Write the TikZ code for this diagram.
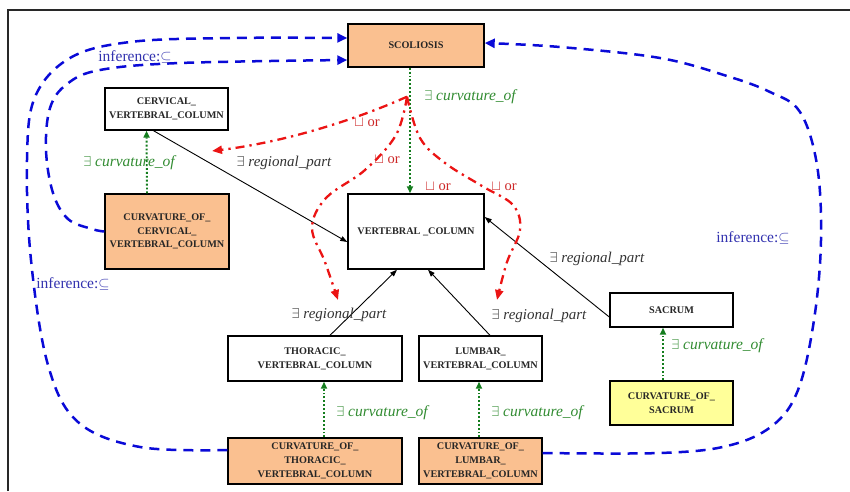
\documentclass[tikz,border=0pt]{standalone}
\usepackage{fontspec}
\setmainfont{Liberation Serif}
\usetikzlibrary{arrows.meta,calc}
\definecolor{orng}{RGB}{250,192,144}
\definecolor{yel}{RGB}{255,255,153}
\definecolor{grn}{RGB}{20,125,30}
\definecolor{grntxt}{RGB}{50,140,50}
\definecolor{blu}{RGB}{10,10,215}
\definecolor{blutxt}{RGB}{50,50,175}
\definecolor{rd}{RGB}{235,20,20}
\definecolor{rdtxt}{RGB}{205,40,40}
\definecolor{frm}{RGB}{40,40,40}
\begin{document}
\begin{tikzpicture}[x=1pt,y=-1pt,
  box/.style={draw=black,line width=1.4pt,inner sep=0pt,align=center,
    font=\fontsize{10.2}{13.8}\selectfont\bfseries,text=black!85},
  obox/.style={box,fill=orng},
  ybox/.style={box,fill=yel},
  wbox/.style={box,fill=white},
  curv/.style={grn,line width=1.9pt,dash pattern=on 1.9pt off 2pt,-{Triangle[length=7pt,width=6pt]}},
  part/.style={black,line width=0.9pt,-{Triangle[length=7pt,width=5pt]}},
  uni/.style={rd,line width=2.3pt,dash pattern=on 9pt off 5pt on 2.3pt off 5pt,-{Triangle[length=10pt,width=8pt]}},
  inf/.style={blu,line width=2.5pt,dash pattern=on 10pt off 7pt,-{Triangle[length=10pt,width=9pt]}},
  clab/.style={text=grntxt,font=\fontsize{15.5}{15.5}\selectfont\itshape,inner sep=1pt},
  plab/.style={text=black!80,font=\fontsize{15}{15}\selectfont\itshape,inner sep=1pt},
  olab/.style={text=rdtxt,font=\fontsize{14.5}{14.5}\selectfont,inner sep=1pt},
  ilab/.style={text=blutxt,font=\fontsize{15.5}{15.5}\selectfont,inner sep=1pt},
]
\useasboundingbox (0,0) rectangle (850,491);
\draw[frm,line width=2pt] (8,491) -- (8,10) -- (850,10);

% nodes
\node[obox,minimum width=136pt,minimum height=43pt] (scol) at (416,45.5) {SCOLIOSIS};
\node[wbox,minimum width=123pt,minimum height=42pt] (cerv) at (166.5,109) {CERVICAL\_\\VERTEBRAL\_COLUMN};
\node[obox,minimum width=124pt,minimum height=75pt] (ccerv) at (167,231.5) {CURVATURE\_OF\_\\CERVICAL\_\\VERTEBRAL\_COLUMN};
\node[wbox,minimum width=136pt,minimum height=75pt] (vert) at (416,231.5) {VERTEBRAL \_COLUMN};
\node[wbox,minimum width=123pt,minimum height=34pt] (sacr) at (671.5,310) {SACRUM};
\node[ybox,minimum width=123pt,minimum height=44pt] (csacr) at (671.5,403) {CURVATURE\_OF\_\\SACRUM};
\node[wbox,minimum width=174pt,minimum height=45pt] (thor) at (315,358.5) {THORACIC\_\\VERTEBRAL\_COLUMN};
\node[wbox,minimum width=123pt,minimum height=45pt] (lumb) at (480.5,358.5) {LUMBAR\_\\VERTEBRAL\_COLUMN};
\node[obox,minimum width=174pt,minimum height=46pt] (cthor) at (315,461) {CURVATURE\_OF\_\\THORACIC\_\\VERTEBRAL\_COLUMN};
\node[obox,minimum width=123pt,minimum height=46pt] (clumb) at (480.5,461) {CURVATURE\_OF\_\\LUMBAR\_\\VERTEBRAL\_COLUMN};

% curvature_of (green dotted)
\draw[curv] ($(scol.south)+(-6,0)$) -- ($(vert.north)+(-6,0)$);
\draw[curv] ($(ccerv.north)+(-20,0)$) -- ($(cerv.south)+(-20,0)$);
\draw[curv] ($(cthor.north)+(9,0)$) -- ($(thor.south)+(9,0)$);
\draw[curv] ($(clumb.north)+(-1.5,0)$) -- ($(lumb.south)+(-1.5,0)$);
\draw[curv] ($(csacr.north)+(-8.5,0)$) -- ($(sacr.south)+(-8.5,0)$);
\node[clab] (lc1) at (470,97) {$\exists$ curvature\_of};
\node[clab] (lc2) at (129,163) {$\exists$ curvature\_of};
\node[clab] (lc3) at (382,413) {$\exists$ curvature\_of};
\node[clab] (lc4) at (537,413) {$\exists$ curvature\_of};
\node[clab] (lc5) at (717,346) {$\exists$ curvature\_of};

% regional_part (black)
\draw[part] ($(cerv.south)+(-13,0)$) -- ($(vert.west)+(0,10.5)$);
\draw[part] ($(thor.north)+(15,0)$) -- ($(vert.south)+(-19,0)$);
\draw[part] ($(lumb.north)+(9.5,0)$) -- ($(vert.south)+(12,0)$);
\draw[part] ($(sacr.west)+(0,7)$) -- ($(vert.east)+(0,-14.5)$);
\node[plab] (lp1) at (284,163) {$\exists$ regional\_part};
\node[plab] (lp2) at (339,315) {$\exists$ regional\_part};
\node[plab] (lp3) at (539,316) {$\exists$ regional\_part};
\node[plab] (lp4) at (597,259) {$\exists$ regional\_part};

% union (red dash-dot)
\coordinate (apx) at ($(scol.south)+(-9,29)$);
\coordinate (ra) at (212,151);
\coordinate (rb) at (338,300);
\coordinate (rc) at (497,300);
\draw[uni] (apx) .. controls (355,120) and (285,142) .. (ra);
\draw[uni] plot[smooth,tension=0.6] coordinates {(apx) (396,135) (365,170) (326,198) (312,228) (325,262) (rb)};
\draw[uni] plot[smooth,tension=0.6] coordinates {(apx) (420,138) (445,163) (482,186) (513,205) (520,230) (507,262) (rc)};
\node[olab] (lo1) at (367,123) {$\sqcup$ or};
\node[olab] (lo2) at (387,160) {$\sqcup$ or};
\node[olab] (lo3) at (438,187) {$\sqcup$ or};
\node[olab] (lo4) at (504,187) {$\sqcup$ or};

% inference (blue dashed)
\coordinate (o1) at ($(cthor.west)+(0,-11)$);
\coordinate (o2) at ($(scol.west)+(0,-7.5)$);
\draw[inf] plot[smooth,tension=0.6] coordinates {(o1) (140,447) (78,422) (48,365) (31,260) (27,160) (35,97) (70,58) (130,42) (230,38) (o2)};
\coordinate (i1) at (ccerv.west);
\coordinate (i2) at ($(scol.west)+(0,14.5)$);
\draw[inf] plot[smooth,tension=0.6] coordinates {(i1) (92,229) (68,219) (53,193) (46,150) (50,108) (67,84) (100,70) (180,63) (i2)};
\coordinate (r1) at ($(clumb.east)+(0,-8)$);
\coordinate (r2) at ($(scol.east)+(0,-2.5)$);
\draw[inf] plot[smooth,tension=0.6] coordinates {(r1) (660,453) (727,446) (772,426) (798,390) (814,320) (821,240) (817,165) (800,112) (770,92) (727,76) (660,58) (560,47) (r2)};
\node[ilab] (li1) at (135,57) {inference:$\subseteq$};
\node[ilab] (li2) at (73,284) {inference:$\subseteq$};
\node[ilab] (li3) at (753,238) {inference:$\subseteq$};
\end{tikzpicture}
\end{document}
